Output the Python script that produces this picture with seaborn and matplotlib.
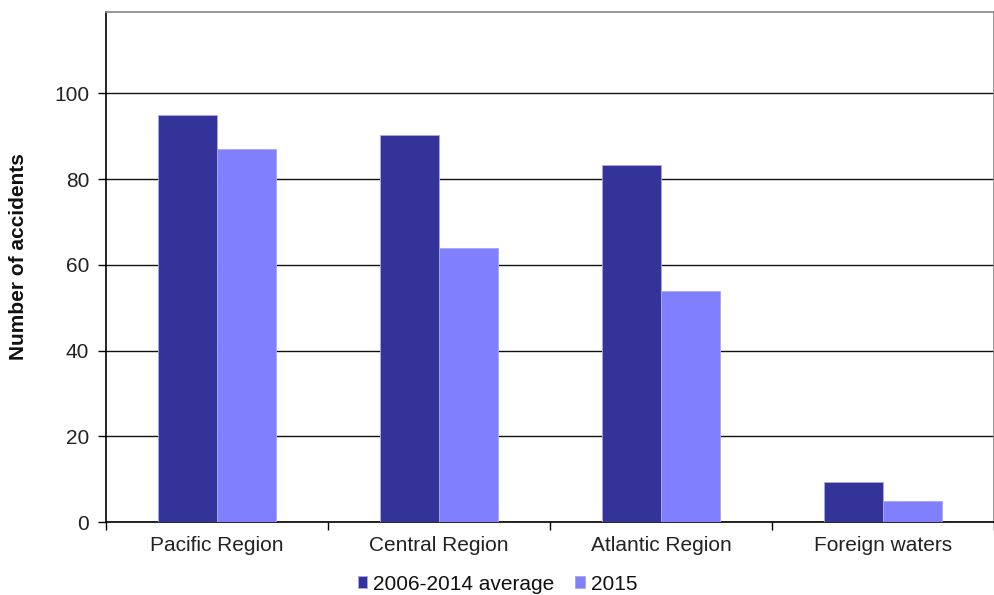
import matplotlib
matplotlib.use("Agg")
import matplotlib.pyplot as plt
import seaborn as sns
import pandas as pd

regions = ["Pacific Region", "Central Region", "Atlantic Region", "Foreign waters"]
avg_2006_2014 = [95.0, 90.4, 83.4, 9.4]
year_2015 = [87, 64, 54, 5]
series_names = ["2006-2014 average", "2015"]
y_ticks = [0, 20, 40, 60, 80, 100]

df = pd.DataFrame({
    "Region": regions * 2,
    "Series": [series_names[0]] * len(regions) + [series_names[1]] * len(regions),
    "Accidents": avg_2006_2014 + year_2015,
})

sns.set_style("white")
plt.rcParams["font.family"] = ["Liberation Sans", "DejaVu Sans"]

fig = plt.figure(figsize=(9.95, 5.95), dpi=100)
ax = fig.add_axes([106 / 995, 73 / 595, 888 / 995, 510 / 595])

palette = {series_names[0]: "#333399", series_names[1]: "#8080FF"}
sns.barplot(data=df, x="Region", y="Accidents", hue="Series", order=regions,
            hue_order=series_names, palette=palette, width=0.532, gap=0,
            saturation=1, edgecolor="#a8a8e8", linewidth=0.6, ax=ax, zorder=3)

ax.set_xlim(-0.5, len(regions) - 0.5)
ax.set_ylim(0, 119)
ax.set_yticks(y_ticks)
ax.yaxis.grid(True, color="#111111", linewidth=1.0, zorder=0)
ax.set_axisbelow(True)

ax.tick_params(axis="y", which="major", direction="out", length=6, width=1,
               color="black", labelsize=15, labelcolor="#222222", pad=6, left=True)
ax.tick_params(axis="x", which="major", length=0, labelsize=15,
               labelcolor="#222222", pad=10)
ax.set_xticks([i - 0.5 for i in range(len(regions) + 1)], minor=True)
ax.tick_params(axis="x", which="minor", direction="out", length=6, width=1,
               color="black", bottom=True)

ax.set_xlabel("")
ax.set_ylabel("Number of accidents", fontsize=15, fontweight="bold",
              color="#111111")
ax.yaxis.set_label_coords(-0.088, 0.52)

for side in ["left", "bottom"]:
    ax.spines[side].set_color("black")
    ax.spines[side].set_linewidth(1.2)
for side in ["top", "right"]:
    ax.spines[side].set_color("#888888")
    ax.spines[side].set_linewidth(1.2)
    ax.spines[side].set_visible(True)

handles, labels = ax.get_legend_handles_labels()
ax.get_legend().remove()
fig.legend(handles, labels, loc="center", bbox_to_anchor=(0.5, 1 - 584 / 595),
           ncol=2, frameon=False, fontsize=15, handlelength=0.45,
           handleheight=0.45, handletextpad=0.3, columnspacing=1.0,
           labelcolor="#111111", borderpad=0.1)

fig.savefig("out.png", dpi=100)
